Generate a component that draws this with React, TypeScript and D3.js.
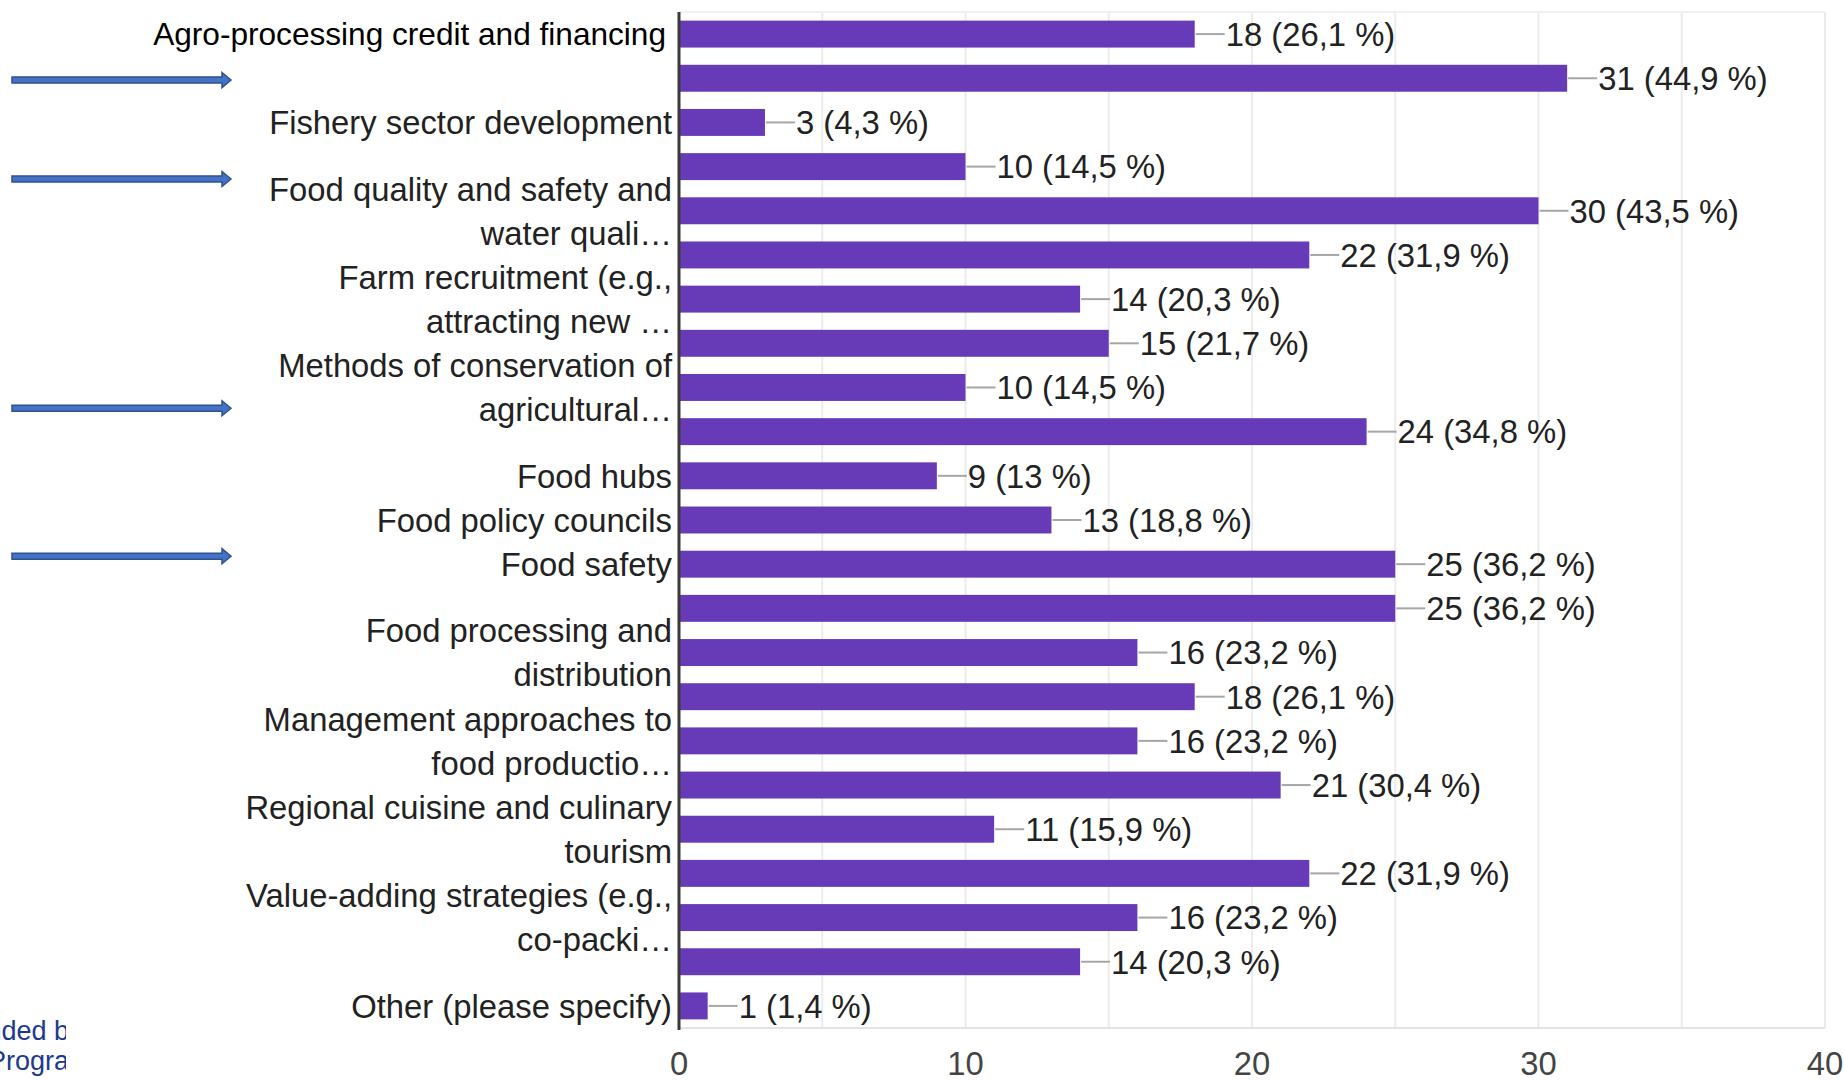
import { useEffect, useRef } from "react"
import * as d3 from "d3"

// one entry per bar, top to bottom; "" = label not shown, "\n" = line break
const categories = [
  "Agro-processing credit and financing",
  "",
  "Fishery sector development",
  "",
  "Food quality and safety and\nwater quali…",
  "",
  "Farm recruitment (e.g.,\nattracting new …",
  "",
  "Methods of conservation of\nagricultural…",
  "",
  "Food hubs",
  "Food policy councils",
  "Food safety",
  "",
  "Food processing and\ndistribution",
  "",
  "Management approaches to\nfood productio…",
  "",
  "Regional cuisine and culinary\ntourism",
  "",
  "Value-adding strategies (e.g.,\nco-packi…",
  "",
  "Other (please specify)",
]

const counts = [18, 31, 3, 10, 30, 22, 14, 15, 10, 24, 9, 13, 25, 25, 16, 18, 16, 21, 11, 22, 16, 14, 1]

const percents = [
  "26,1", "44,9", "4,3", "14,5", "43,5", "31,9", "20,3", "21,7", "14,5", "34,8", "13", "18,8",
  "36,2", "36,2", "23,2", "26,1", "23,2", "30,4", "15,9", "31,9", "23,2", "20,3", "1,4",
]

const xTicks = [0, 10, 20, 30, 40]
const gridTicks = [5, 10, 15, 20, 25, 30, 35, 40]

// annotation arrows, in bar-index units
const arrowAt = [1.04, 3.28, 8.47, 11.82]

const W = 1844
const H = 1081
const PLOT = { left: 679, right: 1825, top: 12, bottom: 1028 }
const FONT = "'Liberation Sans', Arial, sans-serif"
const FS = 32.8

export default function App() {
  const svgRef = useRef<SVGSVGElement>(null)

  useEffect(() => {
    if (!svgRef.current) return
    const svg = d3.select(svgRef.current)
    svg.selectAll("*").remove()

    const idx = counts.map((_, i) => i)
    const x = d3.scaleLinear().domain([0, 40]).range([PLOT.left, PLOT.right])
    const y = d3
      .scaleBand<number>()
      .domain(idx)
      .range([PLOT.top, PLOT.bottom])
      .paddingInner(0.39)
      .paddingOuter(0.195)
    const bw = y.bandwidth()
    const step = y.step()
    const cy = (i: number) => (y(i) as number) + bw / 2
    const pos = d3.scaleLinear().domain([0, counts.length - 1]).range([cy(0), cy(counts.length - 1)])

    // gridlines
    svg
      .append("g")
      .selectAll("line")
      .data(gridTicks)
      .join("line")
      .attr("x1", (d) => x(d))
      .attr("x2", (d) => x(d))
      .attr("y1", PLOT.top)
      .attr("y2", PLOT.bottom)
      .attr("stroke", "#ececec")
      .attr("stroke-width", 2)
    svg.append("line")
      .attr("x1", PLOT.left).attr("x2", PLOT.right)
      .attr("y1", PLOT.top).attr("y2", PLOT.top)
      .attr("stroke", "#f2f2f2").attr("stroke-width", 2)
    svg.append("line")
      .attr("x1", PLOT.left).attr("x2", PLOT.right)
      .attr("y1", PLOT.bottom).attr("y2", PLOT.bottom)
      .attr("stroke", "#e3e3e3").attr("stroke-width", 2)

    // bars
    svg
      .append("g")
      .selectAll("rect")
      .data(counts)
      .join("rect")
      .attr("x", x(0))
      .attr("y", (_, i) => y(i) as number)
      .attr("width", (d) => x(d) - x(0))
      .attr("height", bw)
      .attr("fill", "#673ab7")

    // value labels with leader lines
    const vl = svg.append("g").attr("font-family", FONT).attr("font-size", FS).attr("fill", "#222")
    counts.forEach((d, i) => {
      vl.append("line")
        .attr("x1", x(d) + 1).attr("x2", x(d) + 30)
        .attr("y1", cy(i)).attr("y2", cy(i))
        .attr("stroke", "#a6a6a6").attr("stroke-width", 2)
      vl.append("text")
        .attr("x", x(d) + 31)
        .attr("y", cy(i))
        .attr("dy", "0.36em")
        .text(`${d} (${percents[i]} %)`)
    })

    // zero axis line
    svg.append("line")
      .attr("x1", x(0)).attr("x2", x(0))
      .attr("y1", PLOT.top).attr("y2", PLOT.bottom + 2)
      .attr("stroke", "#3a3a3a").attr("stroke-width", 3)

    // category labels
    const cl = svg.append("g").attr("font-family", FONT).attr("text-anchor", "end")
    categories.forEach((c, i) => {
      if (!c) return
      const lines = c.split("\n")
      lines.forEach((ln, k) => {
        const off = (k - (lines.length - 1) / 2) * step
        cl.append("text")
          .attr("x", i === 0 ? x(0) - 13 : x(0) - 7)
          .attr("y", cy(i) + off)
          .attr("dy", "0.36em")
          .attr("fill", i === 0 ? "#000" : "#222")
          .attr("font-size", i === 0 ? 31.6 : FS)
          .text(ln)
      })
    })

    // x tick labels
    svg
      .append("g")
      .attr("font-family", FONT)
      .attr("font-size", FS)
      .attr("fill", "#444")
      .attr("text-anchor", "middle")
      .selectAll("text")
      .data(xTicks)
      .join("text")
      .attr("x", (d) => x(d))
      .attr("y", 1075)
      .text((d) => d)

    // arrows
    const ag = svg.append("g")
    arrowAt.forEach((a) => {
      const yy = pos(a)
      const p = d3.path()
      p.moveTo(12, yy - 3)
      p.lineTo(222, yy - 3)
      p.lineTo(222, yy - 7.5)
      p.lineTo(231, yy)
      p.lineTo(222, yy + 7.5)
      p.lineTo(222, yy + 3)
      p.lineTo(12, yy + 3)
      p.closePath()
      ag.append("path")
        .attr("d", p.toString())
        .attr("fill", "#4472c4")
        .attr("stroke", "#2f528f")
        .attr("stroke-width", 1.5)
    })

    // cut-off footer text at left edge
    const defs = svg.append("defs")
    defs.append("clipPath").attr("id", "foot-clip")
      .append("rect").attr("x", 0).attr("y", 1000).attr("width", 66).attr("height", 81)
    const ft = svg.append("g").attr("clip-path", "url(#foot-clip)")
      .attr("font-family", FONT).attr("font-size", 27).attr("fill", "#1c3a8e")
    ft.append("text").attr("x", -45).attr("y", 1040).text("Funded by")
    ft.append("text").attr("x", -12).attr("y", 1070).text("Programme")
  }, [])

  return (
    <div style={{ position: "absolute", left: 0, top: 0, background: "#fff" }}>
      <svg ref={svgRef} width={W} height={H} style={{ display: "block" }} />
    </div>
  )
}
